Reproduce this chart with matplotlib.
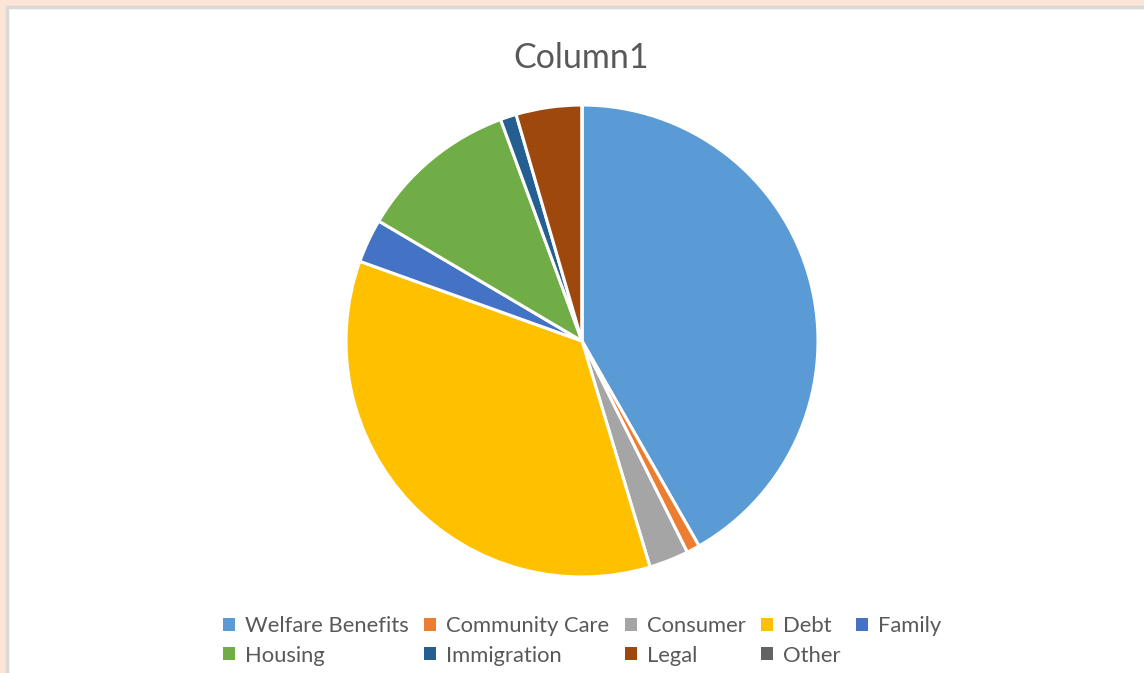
import matplotlib.pyplot as plt
from matplotlib.patches import Rectangle, Patch

# categories and their shares of the pie
labels = ["Welfare Benefits", "Community Care", "Consumer", "Debt", "Family",
          "Housing", "Immigration", "Legal", "Other"]
values = [41.7, 0.9, 2.7, 35.1, 3.0, 10.9, 1.1, 4.5, 0.0]
colors = ["#5B9BD5", "#ED7D31", "#A5A5A5", "#FFC000", "#4472C4",
          "#70AD47", "#255E91", "#9E480E", "#636363"]

W, H = 1144, 673
plt.rcParams['font.family'] = ['Lato', 'DejaVu Sans']
fig = plt.figure(figsize=(W / 100, H / 100), dpi=100, facecolor='#FCE4D6')

# white chart area with its grey outline
fig.patches.append(Rectangle((7 / W, -0.1), 1.2, 1 - 7 / H + 0.1,
                             transform=fig.transFigure, facecolor='white',
                             edgecolor='#D9D9D9', linewidth=2.5, zorder=-1))

# pie of radius ~236 px centred at (582, 341); a little slack for the edges
cx, cy, r = 582, 341, 236 * 1.01
ax = fig.add_axes([(cx - r) / W, (H - cy - r) / H, 2 * r / W, 2 * r / H])
ax.pie(values, colors=colors, startangle=90, counterclock=False, radius=1,
       wedgeprops=dict(edgecolor='white', linewidth=2.2))
ax.set_xlim(-1.01, 1.01)
ax.set_ylim(-1.01, 1.01)
ax.set_aspect('equal')
ax.axis('off')

fig.text(581 / W, 1 - 58 / H, "Column1", ha='center', va='center',
         fontsize=24.5, color='#595959')

# legend fills column by column, so reorder to get Excel's row order
order = [0, 5, 1, 6, 2, 7, 3, 8, 4]
handles = [Patch(facecolor=colors[i], edgecolor='none') for i in order]
fig.legend(handles, [labels[i] for i in order], ncol=5, loc='center',
           bbox_to_anchor=(582 / W, 1 - 641 / H), frameon=False,
           fontsize=15.8, labelcolor='#595959', handlelength=0.55,
           handleheight=0.55, handletextpad=0.45, columnspacing=0.7,
           labelspacing=0.42)

fig.savefig("out.png", dpi=100, facecolor=fig.get_facecolor())
